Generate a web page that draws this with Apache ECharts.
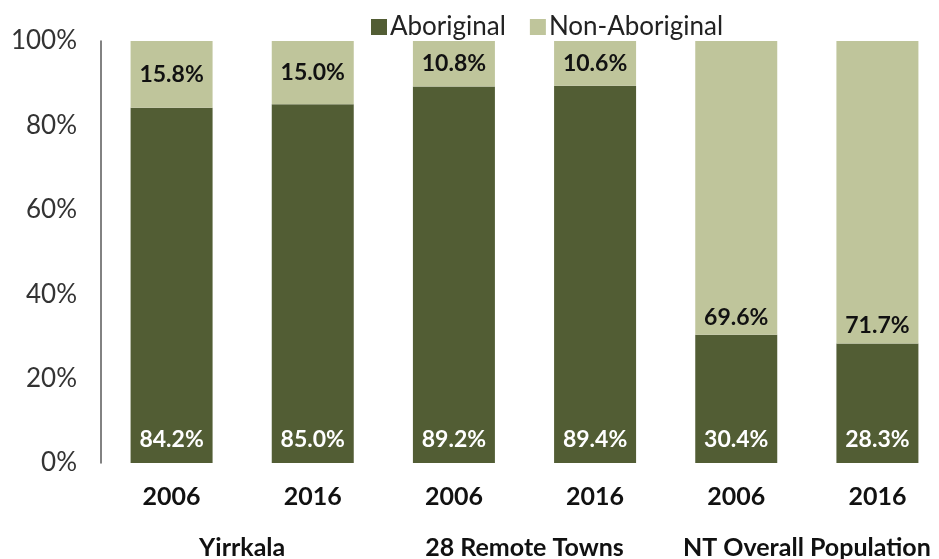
<!DOCTYPE html>
<html>
<head>
<meta charset="utf-8">
<script src="https://cdn.jsdelivr.net/npm/echarts@6/dist/echarts.min.js"></script>
<style>
  html, body { margin: 0; padding: 0; background: #fff; }
  #chart { width: 939px; height: 559px; }
</style>
</head>
<body>
<div id="chart"></div>
<script>
    // data
    var years = ["2006", "2016", "2006", "2016", "2006", "2016"];
    var groups = ["Yirrkala", "28 Remote Towns", "NT Overall Population"];
    var aboriginal = [84.2, 85.0, 89.2, 89.4, 30.4, 28.3];
    var nonAboriginal = [15.8, 15.0, 10.8, 10.6, 69.6, 71.7];

    var dark = "#525d34";
    var light = "#bfc59b";
    var font = "Lato";

    var chart = echarts.init(document.getElementById("chart"));

    // last two light labels sit just above the dark segment, the rest are centred
    var nonData = nonAboriginal.map(function (v, i) {
        return {
            value: v,
            label: { position: i >= 4 ? "insideBottom" : "inside", distance: 6 }
        };
    });

    var option = {
        animation: false,
        textStyle: { fontFamily: font },
        legend: {
            top: 9,
            left: 366,
            itemWidth: 16,
            itemHeight: 16,
            itemGap: 24,
            icon: "rect",
            textStyle: { fontSize: 26, color: "#222", fontFamily: font, padding: [0, 0, 0, -2] },
            data: ["Aboriginal", "Non-Aboriginal"]
        },
        grid: { left: 101, top: 41, width: 847, height: 422, outerBoundsMode: "none" },
        xAxis: [
            {
                type: "category",
                data: years,
                axisLine: { show: false },
                axisTick: { show: false },
                axisLabel: { interval: 0, fontSize: 25, fontWeight: "bold", color: "#111", margin: 21, fontFamily: font }
            },
            {
                type: "category",
                data: groups,
                position: "bottom",
                offset: 52,
                axisLine: { show: false },
                axisTick: { show: false },
                axisLabel: { interval: 0, fontSize: 25, fontWeight: "bold", color: "#111", margin: 20, fontFamily: font }
            }
        ],
        yAxis: {
            type: "value",
            min: 0,
            max: 100,
            interval: 20,
            axisLine: { show: true, lineStyle: { color: "#595959", width: 1.5 } },
            axisTick: { show: false },
            splitLine: { show: false },
            axisLabel: { formatter: "{value}%", fontSize: 26, color: "#333", margin: 24, fontFamily: font }
        },
        series: [
            {
                name: "Aboriginal",
                type: "bar",
                stack: "pop",
                barWidth: 82,
                itemStyle: { color: dark },
                label: {
                    show: true,
                    position: "insideBottom",
                    distance: 12,
                    color: "#fff",
                    fontSize: 23,
                    fontWeight: "bold",
                    fontFamily: font,
                    formatter: function (p) { return p.value.toFixed(1) + "%"; }
                },
                data: aboriginal
            },
            {
                name: "Non-Aboriginal",
                type: "bar",
                stack: "pop",
                barWidth: 82,
                itemStyle: { color: light },
                label: {
                    show: true,
                    color: "#111",
                    fontSize: 23,
                    fontWeight: "bold",
                    fontFamily: font,
                    formatter: function (p) { return p.value.toFixed(1) + "%"; }
                },
                data: nonData
            }
        ]
    };

    chart.setOption(option);
</script>
</body>
</html>
